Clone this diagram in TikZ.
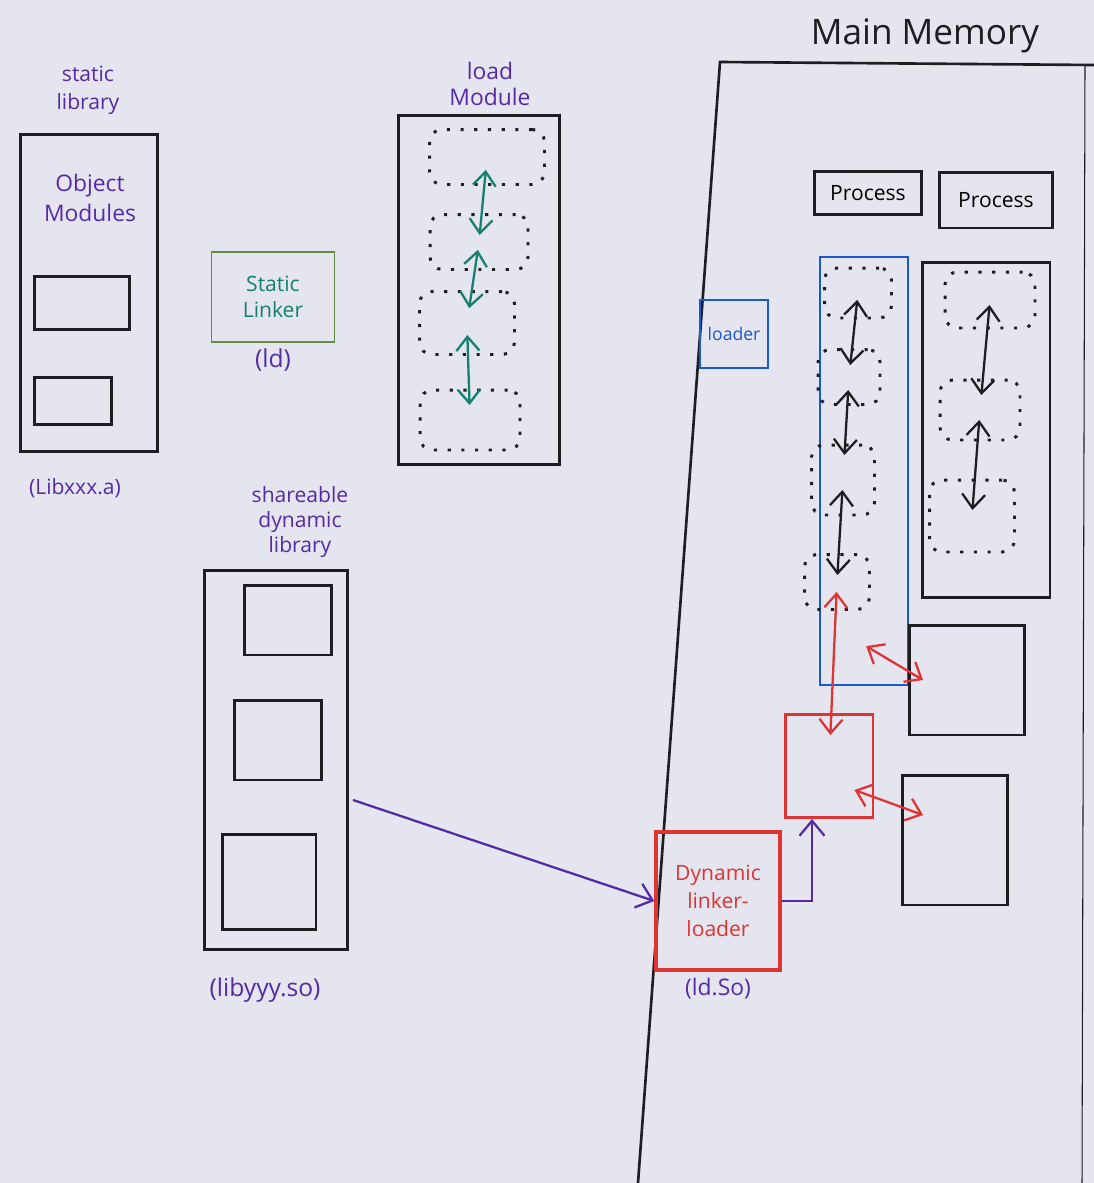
\documentclass[tikz,border=0pt]{standalone}
\usepackage{fontspec}
\setmainfont{Open Sans}
\usetikzlibrary{arrows.meta, positioning, calc}
\definecolor{paper}{RGB}{228,229,238}
\definecolor{ink}{RGB}{30,30,34}
\definecolor{penpurple}{RGB}{86,42,165}
\definecolor{penteal}{RGB}{20,128,112}
\definecolor{pengreen}{RGB}{100,140,70}
\definecolor{penred}{RGB}{222,52,52}
\definecolor{penblue}{RGB}{28,88,205}
\tikzset{
  box/.style     = {rectangle, draw=ink, line width=1.7pt, inner sep=2pt, align=center},
  seg/.style     = {rectangle, draw=ink, line width=1.7pt, rounded corners=7pt,
                    dash pattern=on 1.8pt off 6pt},
  lbl/.style     = {text=penpurple, align=center, font=\fontsize{12}{14}\selectfont},
  darr/.style    = {{Straight Barb[length=2.8mm,width=4.6mm]}-{Straight Barb[length=2.8mm,width=4.6mm]},
                    line width=1.3pt},
  arrow/.style   = {-{Straight Barb[length=3mm,width=5mm]}, line width=1.3pt}
}

\begin{document}
\begin{tikzpicture}[x=0.02cm, y=-0.02cm]
  \fill[paper] (0,0) rectangle (1094,1183);
  \useasboundingbox (0,0) rectangle (1094,1183);

  % Static library
  \node (stlabel) [lbl, font=\fontsize{12}{16}\selectfont] at (88,90) {static\\library};
  \node (stlib)  [box, minimum width=2.76cm, minimum height=6.34cm] at (89,293) {};
  \node (objtxt) [lbl, font=\fontsize{13}{17}\selectfont] at (90,198) {Object\\Modules};
  \node (objA)   [box, minimum width=1.9cm,  minimum height=1.06cm] at (82,303) {};
  \node (objB)   [box, minimum width=1.54cm, minimum height=0.94cm] at (73,401) {};
  \node (stname) [lbl] at (75,488) {(Libxxx.a)};

  % Static linker
  \node (linker) [box, draw=pengreen, line width=1pt, text=penteal,
                  font=\fontsize{12}{15}\selectfont,
                  minimum width=2.46cm, minimum height=1.8cm] at (273,297) {Static\\Linker};
  \node (ldname) [lbl, font=\fontsize{14}{16}\selectfont, below=0pt of linker] {(ld)};

  % Load module
  \node (lmlabel) [lbl, font=\fontsize{13}{15}\selectfont] at (490,84) {load\\Module};
  \node (lmod) [box, minimum width=3.24cm, minimum height=7cm] at (479,290) {};
  \node (seg1) [seg, minimum width=2.3cm,  minimum height=1.1cm]  at (487,157) {};
  \node (seg2) [seg, minimum width=1.96cm, minimum height=1.1cm]  at (479,242) {};
  \node (seg3) [seg, minimum width=1.9cm,  minimum height=1.26cm] at (467,323) {};
  \node (seg4) [seg, minimum width=2.0cm,  minimum height=1.2cm]  at (470,420) {};

  % Shareable dynamic library
  \node (shlabel) [lbl] at (300,522) {shareable\\dynamic\\library};
  \node (shlib) [box, minimum width=2.86cm, minimum height=7.6cm] at (276,760) {};
  \node (sh1) [box, minimum width=1.74cm, minimum height=1.4cm] at (288,620) {};
  \node (sh2) [box, minimum width=1.74cm, minimum height=1.6cm] at (278,740) {};
  \node (sh3) [box, minimum width=1.88cm, minimum height=1.9cm] at (269,882) {};
  \node (shname) [lbl, font=\fontsize{14}{16}\selectfont] at (265,990) {(libyyy.so)};

  % Main memory
  \node (mmlabel) [text=ink, font=\fontsize{20}{24}\selectfont] at (925,36) {Main Memory};
  \coordinate (mmtl) at (720,62);
  \coordinate (mmtr) at (1094,65);
  \coordinate (mmbl) at (638,1183);
  \coordinate (mmr1) at (1085,65);
  \coordinate (mmr2) at (1082,1183);
  \draw[ink, line width=1.5pt] (mmbl) -- (mmtl) -- (mmtr);
  \draw[ink, line width=0.6pt] (mmr1) -- (mmr2);

  % Processes
  \node (proc1) [box, minimum width=2.14cm, minimum height=0.86cm,
                 font=\fontsize{12}{14}\selectfont] at (868,193) {Process};
  \node (proc2) [box, minimum width=2.26cm, minimum height=1.12cm,
                 font=\fontsize{12}{14}\selectfont] at (996,200) {Process};
  \node (loader) [box, draw=penblue, line width=1.3pt, text=penblue, font=\fontsize{10}{11}\selectfont,
                  minimum width=1.36cm, minimum height=1.36cm] at (734,334) {loader};

  % Process images
  \node (procA) [box, draw=penblue, line width=1.3pt,
                 minimum width=1.76cm, minimum height=8.56cm] at (864,471) {};
  \node (pa1) [seg, minimum width=1.34cm, minimum height=1.0cm]  at (858,293) {};
  \node (pa2) [seg, minimum width=1.24cm, minimum height=1.1cm]  at (849,377) {};
  \node (pa3) [seg, minimum width=1.26cm, minimum height=1.4cm]  at (843,480) {};
  \node (pa4) [seg, minimum width=1.3cm,  minimum height=1.1cm]  at (837,582) {};
  \node (procB) [box, minimum width=2.56cm, minimum height=6.72cm] at (986,430) {};
  \node (pb1) [seg, minimum width=1.8cm, minimum height=1.12cm] at (990,300) {};
  \node (pb2) [seg, minimum width=1.6cm, minimum height=1.2cm]  at (980,410) {};
  \node (pb3) [seg, minimum width=1.7cm, minimum height=1.44cm] at (972,516) {};

  % Shared pages
  \node (shA) [box, minimum width=2.3cm, minimum height=2.2cm] at (967,680) {};
  \node (shB) [box, minimum width=2.1cm, minimum height=2.6cm] at (955,840) {};
  \node (shmem) [box, draw=penred, minimum width=1.76cm, minimum height=2.06cm] at (829,766) {};

  % Dynamic linker-loader
  \node (dyn) [box, draw=penred, line width=2pt, text=penred,
               font=\fontsize{12}{16}\selectfont,
               minimum width=2.48cm, minimum height=2.76cm] at (718,901) {Dynamic\\linker-\\loader};
  \node (dyname) [lbl, font=\fontsize{13}{15}\selectfont, below=0pt of dyn] {(ld.So)};

  % Arrows inside load module
  \draw[darr, penteal, shorten <=0.26cm, shorten >=0.14cm] (seg1.center) -- (seg2.center);
  \draw[darr, penteal, shorten <=0.16cm, shorten >=0.3cm]  (seg2.center) -- (seg3.center);
  \draw[darr, penteal, shorten <=0.24cm, shorten >=0.3cm]  (seg3.center) -- (seg4.center);
  % Arrows inside process images
  \draw[darr, ink, shorten <=0.14cm, shorten >=0.24cm] (pa1.center) -- (pa2.center);
  \draw[darr, ink, shorten <=0.26cm, shorten >=0.5cm]  (pa2.center) -- (pa3.center);
  \draw[darr, ink, shorten <=0.2cm,  shorten >=0.14cm] (pa3.center) -- (pa4.center);
  \draw[darr, ink, shorten <=0.1cm,  shorten >=0.3cm]  (pb1.center) -- (pb2.center);
  \draw[darr, ink, shorten <=0.2cm,  shorten >=0.12cm] (pb2.center) -- (pb3.center);

  % Red sharing arrows
  \draw[darr, penred, shorten <=0.2cm, shorten >=0.62cm] (pa4.center) -- (shmem.center);
  \draw[darr, penred] ($(procA.south east)+(-43,-40)$) -- ($(shA.west)+(15,0)$);
  \draw[darr, penred] ($(shmem.east)+(-20,24)$) -- ($(shB.west)+(22,-25)$);

  % Linking arrows
  \draw[arrow, penpurple] ($(shlib.east)+(4,40)$) -- (dyn.west);
  \draw[arrow, penpurple] (dyn.east) -| ($(shmem.south)+(-17,0)$);
\end{tikzpicture}
\end{document}
